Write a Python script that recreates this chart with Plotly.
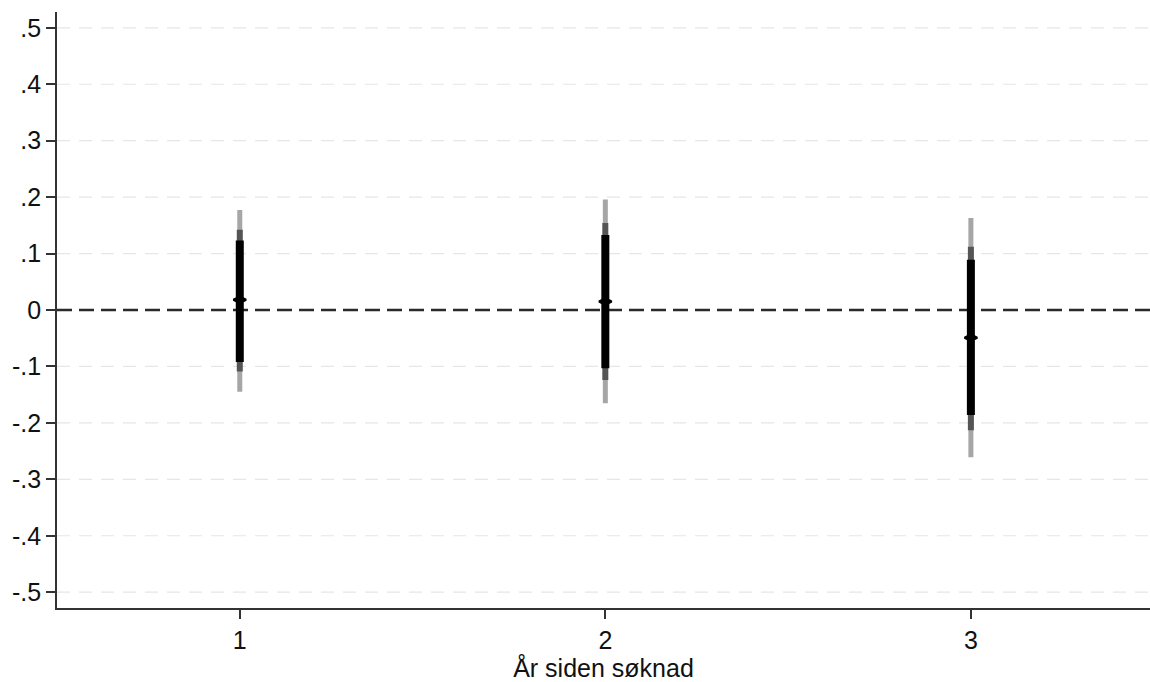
import plotly.graph_objects as go

# Data
years = [1, 2, 3]
estimate = [0.018, 0.015, -0.049]
ci99_low = [-0.145, -0.165, -0.261]
ci99_high = [0.177, 0.196, 0.163]
ci95_low = [-0.109, -0.124, -0.213]
ci95_high = [0.142, 0.154, 0.112]
ci90_low = [-0.092, -0.103, -0.186]
ci90_high = [0.123, 0.133, 0.089]

y_tickvals = [-0.5, -0.4, -0.3, -0.2, -0.1, 0, 0.1, 0.2, 0.3, 0.4, 0.5]
y_ticktext = ["-.5", "-.4", "-.3", "-.2", "-.1", "0", ".1", ".2", ".3", ".4", ".5"]
x_tickvals = [1, 2, 3]
x_ticktext = ["1", "2", "3"]
x_title = "År siden søknad"

FONT = "Liberation Sans, Arial, Helvetica, sans-serif"


def segments(xs, lows, highs):
    sx, sy = [], []
    for x, lo, hi in zip(xs, lows, highs):
        sx += [x, x, None]
        sy += [lo, hi, None]
    return sx, sy


fig = go.Figure()

for lows, highs, color, width in [
    (ci99_low, ci99_high, "#a6a6a6", 5),
    (ci95_low, ci95_high, "#555555", 6),
    (ci90_low, ci90_high, "#000000", 8),
]:
    sx, sy = segments(years, lows, highs)
    fig.add_trace(go.Scatter(x=sx, y=sy, mode="lines",
                             line=dict(color=color, width=width),
                             hoverinfo="skip", showlegend=False))

fig.add_trace(go.Scatter(x=years, y=estimate, mode="markers",
                         marker=dict(symbol="diamond-wide", size=9, color="#000000",
                                     line=dict(color="#000000", width=2.2)),
                         showlegend=False))

# light dashed gridlines (none at zero, where the reference line sits)
for v in y_tickvals:
    if v != 0:
        fig.add_shape(type="line", xref="paper", x0=0, x1=1, yref="y", y0=v, y1=v,
                      line=dict(color="#e6e6e6", width=1.2, dash="13px,9px"), layer="below")

# dashed reference line at zero
fig.add_shape(type="line", xref="paper", x0=0, x1=1, yref="y", y0=0, y1=0,
              line=dict(color="#2a2a2a", width=2.6, dash="15px,7px"), layer="below")

fig.update_layout(
    width=1150, height=682,
    margin=dict(l=57, r=0, t=12, b=74),
    paper_bgcolor="white", plot_bgcolor="white",
    font=dict(family=FONT, size=25, color="#111111"),
    showlegend=False,
)

fig.update_xaxes(
    range=[0.5, 3.49], automargin=False,
    tickvals=x_tickvals, ticktext=x_ticktext,
    showgrid=False, zeroline=False,
    showline=True, linecolor="#333333", linewidth=1.6,
    ticks="outside", ticklen=9, tickwidth=1.6, tickcolor="#333333",
    tickfont=dict(size=25),
    title=dict(text=x_title, font=dict(size=25), standoff=4),
)

fig.update_yaxes(
    range=[-0.528, 0.528], automargin=False,
    tickvals=y_tickvals, ticktext=y_ticktext,
    showgrid=False, zeroline=False,
    showline=True, linecolor="#333333", linewidth=1.6,
    ticks="outside", ticklen=9, tickwidth=1.6, tickcolor="#333333",
    tickfont=dict(size=25),
)

fig.write_html("out.html", config={"displayModeBar": False},
               post_script="document.body.style.margin='0';document.body.style.overflow='hidden';")
